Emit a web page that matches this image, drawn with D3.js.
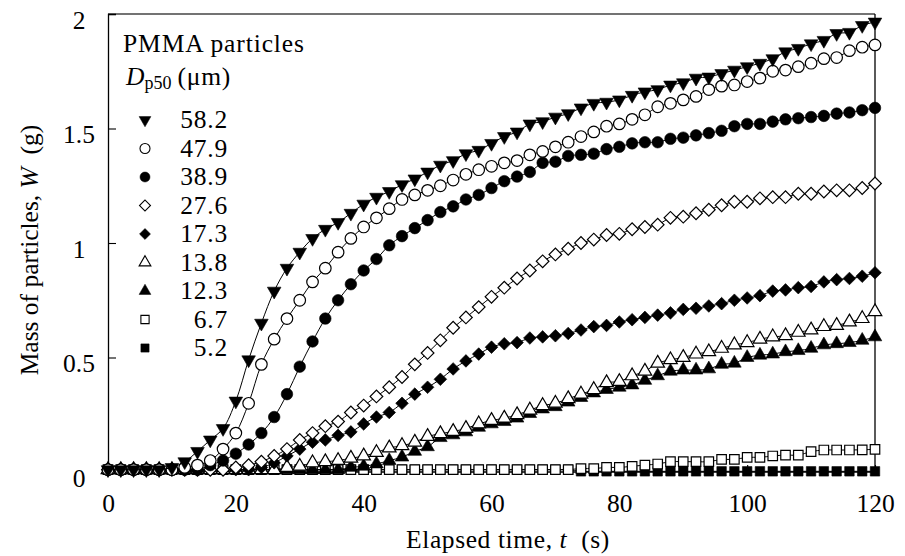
<!DOCTYPE html>
<html>
<head>
<meta charset="utf-8">
<script src="https://cdn.jsdelivr.net/npm/d3@7"></script>
<style>
  body { margin: 0; background: #fff; }
  text { font-family: "Liberation Serif", "Times New Roman", Times, serif; fill: #000; }
</style>
</head>
<body>
<div id="chart"></div>
<script>

//--- Daten ------------------------------------------------------------------------------------------------ //

var times = [0, 2, 4, 6, 8, 10, 12, 14, 16, 18, 20, 22, 24, 26, 28, 30, 32, 34, 36, 38, 40,
    42, 44, 46, 48, 50, 52, 54, 56, 58, 60, 62, 64, 66, 68, 70, 72, 74, 76, 78, 80,
    82, 84, 86, 88, 90, 92, 94, 96, 98, 100, 102, 104, 106, 108, 110, 112, 114, 116, 118, 120];

var w582 = [0.01, 0.01, 0.01, 0.01, 0.01, 0.02, 0.045, 0.09, 0.14, 0.19, 0.31, 0.49, 0.65, 0.79, 0.89, 0.96,
    1.02, 1.06, 1.09, 1.13, 1.17, 1.20, 1.225, 1.255, 1.28, 1.31, 1.34, 1.36, 1.39, 1.405, 1.435,
    1.465, 1.485, 1.52, 1.53, 1.55, 1.565, 1.59, 1.61, 1.615, 1.625, 1.645, 1.66, 1.67, 1.69, 1.70,
    1.72, 1.725, 1.74, 1.755, 1.77, 1.785, 1.805, 1.835, 1.85, 1.87, 1.885, 1.915, 1.92, 1.95, 1.965];

var w479 = [0.01, 0.01, 0.01, 0.01, 0.01, 0.01, 0.02, 0.03, 0.05, 0.10, 0.17, 0.30, 0.47, 0.58, 0.67, 0.75,
    0.83, 0.89, 0.96, 1.02, 1.07, 1.11, 1.15, 1.19, 1.21, 1.23, 1.25, 1.275, 1.30, 1.32, 1.335,
    1.35, 1.36, 1.385, 1.40, 1.42, 1.44, 1.465, 1.485, 1.51, 1.52, 1.54, 1.56, 1.595, 1.61, 1.625,
    1.64, 1.67, 1.685, 1.69, 1.705, 1.72, 1.75, 1.755, 1.77, 1.785, 1.805, 1.81, 1.84, 1.855, 1.865];

var w389 = [0.01, 0.01, 0.01, 0.01, 0.01, 0.01, 0.01, 0.01, 0.03, 0.05, 0.08, 0.12, 0.17, 0.24, 0.34, 0.46,
    0.57, 0.67, 0.75, 0.82, 0.88, 0.93, 0.99, 1.03, 1.065, 1.10, 1.135, 1.16, 1.19, 1.21, 1.24,
    1.27, 1.29, 1.31, 1.35, 1.355, 1.38, 1.385, 1.39, 1.41, 1.42, 1.435, 1.44, 1.44, 1.455, 1.46,
    1.47, 1.48, 1.49, 1.51, 1.52, 1.52, 1.53, 1.54, 1.545, 1.55, 1.555, 1.565, 1.57, 1.58, 1.59];

var w276 = [0.01, 0.01, 0.01, 0.01, 0.01, 0.01, 0.01, 0.01, 0.01, 0.01, 0.02, 0.03, 0.045, 0.07, 0.10, 0.14,
    0.17, 0.20, 0.22, 0.26, 0.29, 0.33, 0.37, 0.415, 0.47, 0.52, 0.575, 0.63, 0.675, 0.72, 0.765,
    0.805, 0.845, 0.88, 0.92, 0.95, 0.975, 1.00, 1.015, 1.035, 1.04, 1.06, 1.07, 1.08, 1.11, 1.115,
    1.13, 1.145, 1.165, 1.18, 1.18, 1.195, 1.20, 1.20, 1.215, 1.215, 1.225, 1.23, 1.23, 1.24, 1.26];

var w173 = [0.01, 0.01, 0.01, 0.01, 0.01, 0.01, 0.01, 0.01, 0.01, 0.01, 0.01, 0.01, 0.02, 0.04, 0.07, 0.10,
    0.13, 0.14, 0.16, 0.175, 0.21, 0.24, 0.26, 0.30, 0.34, 0.37, 0.405, 0.45, 0.485, 0.515, 0.545,
    0.56, 0.565, 0.585, 0.59, 0.595, 0.605, 0.62, 0.635, 0.64, 0.655, 0.665, 0.675, 0.685, 0.695, 0.71,
    0.715, 0.725, 0.735, 0.75, 0.76, 0.77, 0.79, 0.795, 0.805, 0.81, 0.83, 0.84, 0.845, 0.855, 0.87];

var w138 = [0.01, 0.01, 0.01, 0.01, 0.01, 0.01, 0.01, 0.01, 0.01, 0.01, 0.01, 0.01, 0.01, 0.01, 0.02, 0.025,
    0.04, 0.045, 0.05, 0.06, 0.07, 0.085, 0.105, 0.115, 0.13, 0.155, 0.167, 0.177, 0.19, 0.21, 0.225,
    0.235, 0.25, 0.27, 0.29, 0.30, 0.32, 0.34, 0.36, 0.39, 0.395, 0.42, 0.44, 0.475, 0.49, 0.50,
    0.515, 0.525, 0.54, 0.555, 0.565, 0.58, 0.59, 0.595, 0.61, 0.62, 0.635, 0.64, 0.655, 0.67, 0.70];

var w123 = [0.01, 0.01, 0.01, 0.01, 0.01, 0.01, 0.01, 0.01, 0.01, 0.01, 0.01, 0.01, 0.01, 0.01, 0.01, 0.01,
    0.01, 0.01, 0.01, 0.02, 0.025, 0.035, 0.05, 0.065, 0.09, 0.11, 0.15, 0.162, 0.175, 0.195, 0.21,
    0.22, 0.235, 0.255, 0.275, 0.285, 0.305, 0.325, 0.345, 0.36, 0.37, 0.38, 0.40, 0.42, 0.44, 0.445,
    0.445, 0.45, 0.47, 0.475, 0.50, 0.51, 0.515, 0.525, 0.53, 0.54, 0.555, 0.56, 0.565, 0.575, 0.59];

var w67 = [0.01, 0.01, 0.01, 0.01, 0.01, 0.01, 0.01, 0.01, 0.01, 0.01, 0.01, 0.01, 0.01, 0.01, 0.01, 0.01,
    0.01, 0.01, 0.01, 0.01, 0.01, 0.01, 0.01, 0.01, 0.01, 0.01, 0.01, 0.01, 0.01, 0.01, 0.01,
    0.01, 0.01, 0.01, 0.01, 0.01, 0.01, 0.015, 0.015, 0.02, 0.02, 0.025, 0.03, 0.035, 0.045, 0.045,
    0.045, 0.045, 0.055, 0.055, 0.064, 0.064, 0.07, 0.074, 0.074, 0.089, 0.096, 0.096, 0.096, 0.097, 0.099];

var w52 = [0.01, 0.01, 0.01, 0.01, 0.01, 0.01, 0.01, 0.01, 0.01, 0.01, 0.01, 0.01, 0.01, 0.01, 0.01, 0.01,
    0.01, 0.01, 0.01, 0.01, 0.01, 0.01, 0.01, 0.01, 0.01, 0.01, 0.01, 0.01, 0.01, 0.01, 0.01,
    0.01, 0.01, 0.01, 0.01, 0.01, 0.01, 0.003, 0.003, 0.003, 0.003, 0.003, 0.003, 0.003, 0.003, 0.003,
    0.003, 0.003, 0.003, 0.003, 0.003, 0.003, 0.003, 0.003, 0.003, 0.003, 0.003, 0.003, 0.003, 0.003, 0.003];

var sizeLabels = ['58.2', '47.9', '38.9', '27.6', '17.3', '13.8', '12.3', '6.7', '5.2'];
var seriesValues = [w582, w479, w389, w276, w173, w138, w123, w67, w52];
var markerTypes = ['triDown', 'circle', 'circle', 'diamond', 'diamond', 'triUp', 'triUp', 'square', 'square'];
var markerOpen = [false, true, false, true, false, true, false, true, false];

var xTicks = [0, 20, 40, 60, 80, 100, 120];
var yTicks = [0, 0.5, 1, 1.5, 2];


//--- Marker ----------------------------------------------------------------------------------------------- //

function markerPath(_type, _scale) {
    var s = _scale || 1;
    if (_type == 'circle') return d3.symbol().type(d3.symbolCircle).size(105 * s)();
    if (_type == 'square') return d3.symbol().type(d3.symbolSquare).size(90 * s)();
    if (_type == 'diamond') return d3.symbol().type(d3.symbolSquare).size(80 * s)();
    return d3.symbol().type(d3.symbolTriangle).size(80 * s)();
}

function markerRotate(_type) {
    if (_type == 'diamond') return 45;
    if (_type == 'triDown') return 180;
    return 0;
}


//--- Chart ------------------------------------------------------------------------------------------------ //

function renderChart() {

    var width = 905,
        height = 556;
    var fontSize = '25.5px';
    var fontFam = '"Liberation Serif", "Times New Roman", Times, serif';

    var svg = d3.select('#chart').append('svg')
        .attr('width', width)
        .attr('height', height);

    svg.append('rect').attr('width', width).attr('height', height).attr('fill', '#fff');

    var x = d3.scaleLinear().domain([0, 120]).range([108, 875]);
    var y = d3.scaleLinear().domain([0, 2]).range([472, 14]);

    // Rahmen
    var frame = svg.append('g').attr('stroke', '#000').attr('stroke-width', 1.3).attr('fill', 'none');
    frame.append('line').attr('x1', x(0)).attr('x2', x(120)).attr('y1', y(2)).attr('y2', y(2)).attr('stroke', '#444');
    frame.append('line').attr('x1', x(120)).attr('x2', x(120)).attr('y1', y(2)).attr('y2', y(0));
    frame.append('line').attr('x1', x(0)).attr('x2', x(120)).attr('y1', y(0)).attr('y2', y(0));

    // Achsen
    var yAxis = svg.append('g')
        .attr('transform', 'translate(' + x(0) + ',0)')
        .call(d3.axisLeft(y).tickValues(yTicks).tickSize(-8).tickFormat(d3.format('')).tickPadding(0));
    yAxis.select('.domain').attr('stroke-width', 1.3);
    yAxis.selectAll('.tick line').attr('stroke-width', 1.1);
    yAxis.selectAll('.tick text')
        .attr('x', -29)
        .attr('dy', '0.55em')
        .attr('text-anchor', 'middle')
        .style('font-size', fontSize)
        .style('font-family', fontFam);

    var xAxis = svg.append('g')
        .attr('transform', 'translate(0,' + y(0) + ')')
        .call(d3.axisBottom(x).tickValues(xTicks).tickSize(-7).tickPadding(0));
    xAxis.select('.domain').remove();
    xAxis.selectAll('.tick line').attr('stroke-width', 1.1);
    xAxis.selectAll('.tick text')
        .attr('y', 40)
        .attr('dy', 0)
        .style('font-size', fontSize)
        .style('font-family', fontFam);

    // Achsentitel
    var xTitle = svg.append('text')
        .attr('x', 508).attr('y', 548)
        .attr('text-anchor', 'middle')
        .style('font-size', fontSize)
        .style('letter-spacing', '0.6px');
    xTitle.append('tspan').text('Elapsed time, ');
    xTitle.append('tspan').style('font-style', 'italic').text('t');
    xTitle.append('tspan').text('\u00a0 (s)');

    var yTitle = svg.append('text')
        .attr('transform', 'translate(38,250) rotate(-90)')
        .attr('text-anchor', 'middle')
        .style('font-size', fontSize);
    yTitle.append('tspan').text('Mass of particles, ');
    yTitle.append('tspan').style('font-style', 'italic').text('W');
    yTitle.append('tspan').text('\u00a0 (g)');

    // Kurven + Punkte (letzte Serie zuerst)
    var line = d3.line()
        .x(function (d, i) { return x(times[i]); })
        .y(function (d) { return y(d); })
        .curve(d3.curveCatmullRom);

    var plot = svg.append('g').attr('id', 'series');

    for (var s = seriesValues.length - 1; s >= 0; s--) {

        var grp = plot.append('g').attr('class', 'series-' + s);

        grp.append('path')
            .attr('d', line(seriesValues[s]))
            .attr('fill', 'none')
            .attr('stroke', '#000')
            .attr('stroke-width', 1);

        var type = markerTypes[s];
        var open = markerOpen[s];

        grp.selectAll('path.pt')
            .data(seriesValues[s])
            .enter().append('path')
            .attr('class', 'pt')
            .attr('d', markerPath(type))
            .attr('transform', function (d, i) {
                return 'translate(' + x(times[i]) + ',' + y(d) + ') rotate(' + markerRotate(type) + ')';
            })
            .attr('fill', open ? '#fff' : '#000')
            .attr('stroke', '#000')
            .attr('stroke-width', open ? 1.2 : 0.6);
    }

    // Legende
    var legend = svg.append('g').attr('id', 'legend');

    legend.append('text')
        .attr('x', 123).attr('y', 52)
        .style('font-size', fontSize)
        .style('letter-spacing', '0.9px')
        .text('PMMA particles');

    var dp = legend.append('text')
        .attr('x', 126).attr('y', 85)
        .style('font-size', fontSize);
    dp.append('tspan').style('font-style', 'italic').text('D');
    dp.append('tspan').attr('dy', 4).style('font-size', '18px').text('p50');
    dp.append('tspan').attr('dy', -4).attr('dx', 6).style('letter-spacing', '0.8px').text('(\u03bcm)');

    var rowY = d3.scaleLinear().domain([0, 8]).range([120, 348]);

    sizeLabels.forEach(function (lab, i) {
        legend.append('path')
            .attr('d', markerPath(markerTypes[i], 0.75))
            .attr('transform', 'translate(145,' + rowY(i) + ') rotate(' + markerRotate(markerTypes[i]) + ')')
            .attr('fill', markerOpen[i] ? '#fff' : '#000')
            .attr('stroke', '#000')
            .attr('stroke-width', markerOpen[i] ? 1.1 : 0.5);

        legend.append('text')
            .attr('x', 228).attr('y', rowY(i) + 8)
            .attr('text-anchor', 'end')
            .style('font-size', fontSize)
            .style('letter-spacing', '0.8px')
            .text(lab);
    });
}

renderChart();

</script>
</body>
</html>
